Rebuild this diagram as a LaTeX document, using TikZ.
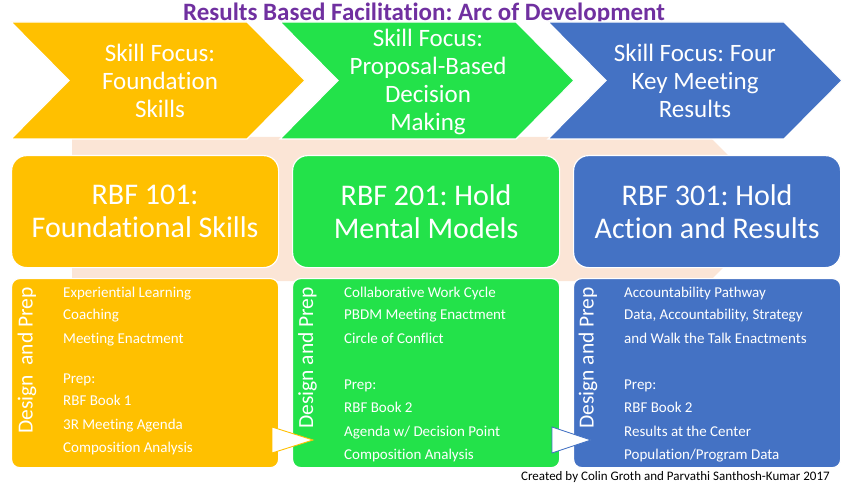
\documentclass[tikz,border=0pt]{standalone}
\usepackage{fontspec}
\setmainfont{Carlito}[Ligatures={NoCommon}]
\frenchspacing
\definecolor{rbfyellow}{HTML}{FFC000}
\definecolor{rbfgreen}{HTML}{23E24A}
\definecolor{rbfblue}{HTML}{4472C4}
\definecolor{rbfpurple}{HTML}{7030A0}
\definecolor{rbfpeach}{HTML}{FBE5D6}
\tikzset{
  chevtext/.style={text=white, align=center, inner sep=0pt, font=\fontsize{25}{28}\selectfont},
  midbox/.style={draw=white, line width=1.2pt, rounded corners=15pt, minimum width=267pt, minimum height=112pt,
    anchor=north west, text=white, align=center, inner sep=0pt, font=\fontsize{30}{33}\selectfont},
  botbox/.style={draw=white, line width=1.2pt, rounded corners=8pt, minimum width=267pt, minimum height=189pt,
    anchor=north west, inner sep=0pt},
  vtext/.style={rotate=90, text=white, inner sep=0pt, font=\fontsize{21.5}{24}\selectfont},
  listtext/.style={anchor=base west, text=white, inner sep=0pt, font=\fontsize{15}{17}\selectfont},
  pointer/.style={fill=white, line width=0.9pt, line join=miter}
}
\begin{document}
\begin{tikzpicture}[x=1pt,y=-1pt]
\useasboundingbox (0,0) rectangle (864,486);
% background band
\fill[rbfpeach] (72,137) -- (710,137) -- (781,209) -- (710,281) -- (72,281) -- cycle;
% title
\node[anchor=base, text=rbfpurple, inner sep=0pt, font=\fontsize{25}{28}\selectfont\bfseries] (title) at (424,21) {Results Based Facilitation: Arc of Development};
% chevrons
\foreach \L/\c in {11/rbfyellow, 280/rbfgreen, 548/rbfblue}{
  \filldraw[fill=\c, draw=white, line width=1.2pt, line join=miter] (\L,22) -- ++(236,0) -- ++(58,58.5) -- ++(-58,58.5) -- ++(-236,0) -- ++(58,-58.5) -- cycle;
}
\node[chevtext] (c1) at (160,80.5) {Skill Focus:\\Foundation\\Skills};
\node[chevtext] (c2) at (428,81.5) {Skill Focus:\\Proposal-Based\\Decision\\Making};
\node[chevtext] (c3) at (695,80.5) {Skill Focus: Four\\Key Meeting\\Results};
% middle boxes
\node[midbox, fill=rbfyellow] (m1) at (11,155) {RBF 101:\\Foundational Skills};
\node[midbox, fill=rbfgreen] (m2) at (292,155) {RBF 201: Hold\\Mental Models};
\node[midbox, fill=rbfblue] (m3) at (573,155) {RBF 301: Hold\\Action and Results};
% bottom boxes
\node[botbox, fill=rbfyellow] (b1) at (11,278) {};
\node[botbox, fill=rbfgreen] (b2) at (292,278) {};
\node[botbox, fill=rbfblue] (b3) at (573,278) {};
% vertical labels
\node[vtext] (v1) at (27,360.5) {Design\ \ and Prep};
\node[vtext] (v2) at (307.5,358) {Design and Prep};
\node[vtext] (v3) at (588,358) {Design and Prep};
% lists
\foreach \y/\t [count=\k] in {297/{Experiential Learning}, 319/{Coaching}, 343/{Meeting Enactment}, 383/{Prep:}, 405/{RBF Book 1}, 429/{3R Meeting Agenda}, 452/{Composition Analysis}}{
  \node[listtext] (la\k) at (63,\y) {\t};
}
\foreach \y/\t [count=\k] in {297/{Collaborative Work Cycle}, 319/{PBDM Meeting Enactment}, 343/{Circle of Conflict}, 389/{Prep:}, 412/{RBF Book 2}, 436/{Agenda w/ Decision Point}, 459/{Composition Analysis}}{
  \node[listtext] (lb\k) at (344,\y) {\t};
}
\foreach \y/\t [count=\k] in {297/{Accountability Pathway}, 319/{Data, Accountability, Strategy}, 343/{and Walk the Talk Enactments}, 389/{Prep:}, 412/{RBF Book 2}, 436/{Results at the Center}, 459/{Population/Program Data}}{
  \node[listtext] (lc\k) at (624,\y) {\t};
}
% pointers
\filldraw[pointer, draw=rbfyellow] (272,427) -- (313,440) -- (272,453) -- cycle;
\filldraw[pointer, draw=rbfblue] (552,427) -- (591,440) -- (552,453) -- cycle;
% credit
\node[anchor=base east, inner sep=0pt, font=\fontsize{13}{15}\selectfont] (credit) at (830,480) {Created by Colin Groth and Parvathi Santhosh-Kumar 2017};
\end{tikzpicture}
\end{document}
